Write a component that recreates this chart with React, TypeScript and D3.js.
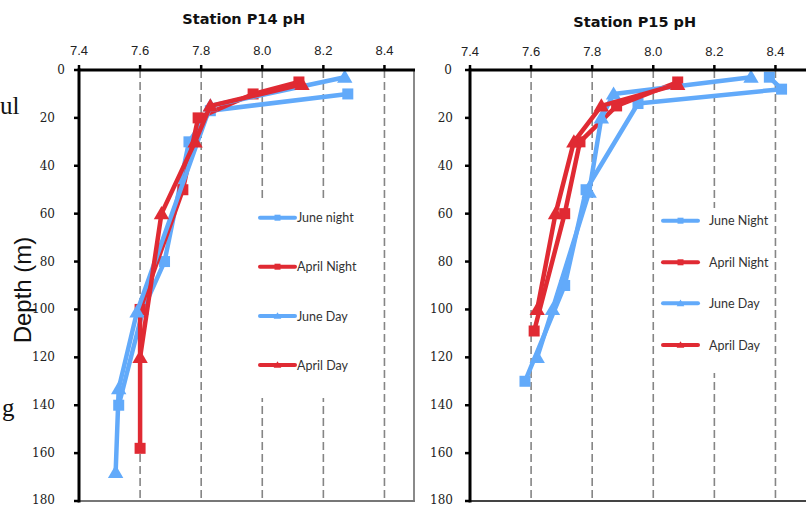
import React from "react";
import * as d3 from "d3";

// ---------- data ----------
const phTicks = [7.4, 7.6, 7.8, 8.0, 8.2, 8.4];
const depthTicks = [0, 20, 40, 60, 80, 100, 120, 140, 160, 180];
const seriesNamesP14 = ["June night", "April Night", "June Day", "April Day"];
const seriesNamesP15 = ["June Night", "April Night", "June Day", "April Day"];

const p14JuneNightPH = [8.28, 7.83, 7.76, 7.68, 7.61, 7.53];
const p14JuneNightDepth = [10, 17, 30, 80, 100, 140];
const p14AprilNightPH = [8.12, 7.97, 7.79, 7.74, 7.6, 7.6];
const p14AprilNightDepth = [5, 10, 20, 50, 100, 158];
const p14JuneDayPH = [8.27, 7.83, 7.59, 7.53, 7.52];
const p14JuneDayDepth = [3, 15, 101, 133, 168];
const p14AprilDayPH = [8.13, 7.83, 7.78, 7.67, 7.6];
const p14AprilDayDepth = [6, 15, 30, 60, 120];

const p15JuneNightPH = [8.38, 8.42, 7.95, 7.78, 7.71, 7.58];
const p15JuneNightDepth = [3, 8, 14, 50, 90, 130];
const p15AprilNightPH = [8.08, 7.88, 7.76, 7.71, 7.61];
const p15AprilNightDepth = [5, 15, 30, 60, 109];
const p15JuneDayPH = [8.32, 7.87, 7.83, 7.79, 7.67, 7.62];
const p15JuneDayDepth = [3, 10, 20, 51, 100, 120];
const p15AprilDayPH = [8.08, 7.83, 7.74, 7.68, 7.62];
const p15AprilDayDepth = [6, 15, 30, 60, 100];

const BLUE = "#62aafa";
const RED = "#e02a33";

type Series = { name: string; ph: number[]; depth: number[]; color: string; marker: "square" | "triangle" };

function zip(ph: number[], depth: number[]) {
  return ph.map((v, i) => ({ ph: v, depth: depth[i] }));
}

function Marker({ x, y, kind, color, size }: { x: number; y: number; kind: string; color: string; size: number }) {
  if (kind === "square") {
    return <rect x={x - size / 2} y={y - size / 2} width={size} height={size} fill={color} />;
  }
  const h = size * 0.9;
  const w = size * 1.1;
  return (
    <path
      d={`M${x},${y - h * 0.6} L${x + w / 2},${y + h * 0.45} L${x - w / 2},${y + h * 0.45} Z`}
      fill={color}
    />
  );
}

type PanelProps = {
  title: string;
  titleY: number;
  x0: number;
  x1: number;
  series: Series[];
  labelOffset: number;
  zeroOffset: number;
  legendX: number;
  legendTextX: number;
  legendYs: number[];
  legendBox: [number, number, number, number];
  leftPanel: boolean;
};

function Panel(p: PanelProps) {
  const x = d3.scaleLinear().domain([7.4, 8.5]).range([p.x0, p.x1]);
  const y = d3.scaleLinear().domain([0, 180]).range([70, 501]);
  const line = d3
    .line<{ ph: number; depth: number }>()
    .x((d) => x(d.ph))
    .y((d) => y(d.depth));
  const [bx, by, bw, bh] = p.legendBox;
  return (
    <g>
      <text
        x={(p.x0 + x(8.4)) / 2 + 12}
        y={p.titleY}
        textAnchor="middle"
        fontFamily="DejaVu Sans"
        fontWeight="bold"
        fontSize={14.5}
        fill="#111"
      >
        {p.title}
      </text>
      {/* grid */}
      {phTicks.slice(1).map((t) => (
        <line
          key={"g" + t}
          x1={x(t)}
          x2={x(t)}
          y1={y(0)}
          y2={y(180)}
          stroke="#858585"
          strokeWidth={1.6}
          strokeDasharray="8,4"
        />
      ))}
      {/* borders */}
      <line x1={p.x1 - 1} x2={p.x1 - 1} y1={y(0)} y2={y(180)} stroke={p.leftPanel ? "#8a8a8a" : "none"} strokeWidth={2} />
      <line x1={p.x0} x2={p.x1} y1={y(180)} y2={y(180)} stroke={p.leftPanel ? "#777" : "#444"} strokeWidth={2} />
      {/* legend background */}
      <rect x={bx} y={by} width={bw} height={bh} fill="#fff" />
      {/* series */}
      {p.series.map((s) => {
        const pts = zip(s.ph, s.depth);
        return (
          <g key={s.name}>
            <path d={line(pts) || ""} fill="none" stroke={s.color} strokeWidth={4.5} strokeLinejoin="round" />
            {pts.map((d, i) => (
              <Marker key={i} x={x(d.ph)} y={y(d.depth)} kind={s.marker} color={s.color} size={s.marker === "square" ? 11 : 14} />
            ))}
          </g>
        );
      })}
      {/* axes */}
      <line x1={p.x0} x2={p.x1} y1={y(0)} y2={y(0)} stroke="#000" strokeWidth={3} />
      <line x1={p.x0} x2={p.x0} y1={y(0) - 1.5} y2={y(180) + 1.5} stroke="#000" strokeWidth={3} />
      {phTicks.map((t) => (
        <g key={"xt" + t}>
          <line x1={x(t)} x2={x(t)} y1={y(0) - 5} y2={y(0)} stroke="#000" strokeWidth={2.5} />
          <text
            x={x(t)}
            y={p.leftPanel ? 55 : 56}
            textAnchor="middle"
            fontFamily="Liberation Sans"
            fontSize={13}
            fill="#222"
          >
            {t.toFixed(1)}
          </text>
        </g>
      ))}
      {depthTicks.map((t) => (
        <g key={"yt" + t}>
          <line x1={p.x0 - 5} x2={p.x0} y1={y(t)} y2={y(t)} stroke="#000" strokeWidth={2.5} />
          <text
            x={p.x0 - (t === 0 ? p.zeroOffset : p.labelOffset)}
            y={t === 180 ? y(t) + 3 : y(t) + 4}
            textAnchor="end"
            fontFamily="DejaVu Serif"
            fontSize={12}
            fill="#222"
          >
            {t}
          </text>
        </g>
      ))}
      {/* legend */}
      {p.series.map((s, i) => {
        const ly = p.legendYs[i];
        return (
          <g key={"lg" + s.name}>
            <line x1={p.legendX} x2={p.legendX + 35} y1={ly} y2={ly} stroke={s.color} strokeWidth={4} strokeLinecap="round" />
            <Marker x={p.legendX + 17.5} y={ly} kind={s.marker} color={s.color} size={s.marker === "square" ? 6 : 7} />
            <text x={p.legendTextX} y={ly + 4.5} fontFamily="Lato" fontSize={12.5} fill="#333">
              {s.name}
            </text>
          </g>
        );
      })}
    </g>
  );
}

export default function App() {
  const p14: Series[] = [
    { name: seriesNamesP14[0], ph: p14JuneNightPH, depth: p14JuneNightDepth, color: BLUE, marker: "square" },
    { name: seriesNamesP14[1], ph: p14AprilNightPH, depth: p14AprilNightDepth, color: RED, marker: "square" },
    { name: seriesNamesP14[2], ph: p14JuneDayPH, depth: p14JuneDayDepth, color: BLUE, marker: "triangle" },
    { name: seriesNamesP14[3], ph: p14AprilDayPH, depth: p14AprilDayDepth, color: RED, marker: "triangle" },
  ];
  const p15: Series[] = [
    { name: seriesNamesP15[0], ph: p15JuneNightPH, depth: p15JuneNightDepth, color: BLUE, marker: "square" },
    { name: seriesNamesP15[1], ph: p15AprilNightPH, depth: p15AprilNightDepth, color: RED, marker: "square" },
    { name: seriesNamesP15[2], ph: p15JuneDayPH, depth: p15JuneDayDepth, color: BLUE, marker: "triangle" },
    { name: seriesNamesP15[3], ph: p15AprilDayPH, depth: p15AprilDayDepth, color: RED, marker: "triangle" },
  ];
  return (
    <svg
      width={806}
      height={506}
      style={{ position: "absolute", left: 0, top: 0, background: "#fff" }}
    >
      <rect x={0} y={0} width={806} height={506} fill="#fff" />
      <text x={0} y={114} fontFamily="Liberation Serif" fontSize={25} fill="#111">
        ul
      </text>
      <text x={2} y={416} fontFamily="Liberation Serif" fontSize={25} fill="#111">
        g
      </text>
      <text
        transform="translate(31,290) rotate(-90)"
        textAnchor="middle"
        fontFamily="Liberation Sans"
        fontSize={24}
        fill="#111"
      >
        Depth (m)
      </text>
      <Panel
        title="Station P14 pH"
        titleY={24}
        x0={79}
        x1={415}
        series={p14}
        labelOffset={24}
        zeroOffset={14}
        legendX={260}
        legendTextX={297}
        legendYs={[217.7, 266.7, 316, 365]}
        legendBox={[256, 201, 120, 197]}
        leftPanel={true}
      />
      <Panel
        title="Station P15 pH"
        titleY={27}
        x0={470}
        x1={806}
        series={p15}
        labelOffset={17}
        zeroOffset={18}
        legendX={663}
        legendTextX={709}
        legendYs={[220.7, 262.3, 303.3, 345]}
        legendBox={[657, 208, 115, 165]}
        leftPanel={false}
      />
    </svg>
  );
}
